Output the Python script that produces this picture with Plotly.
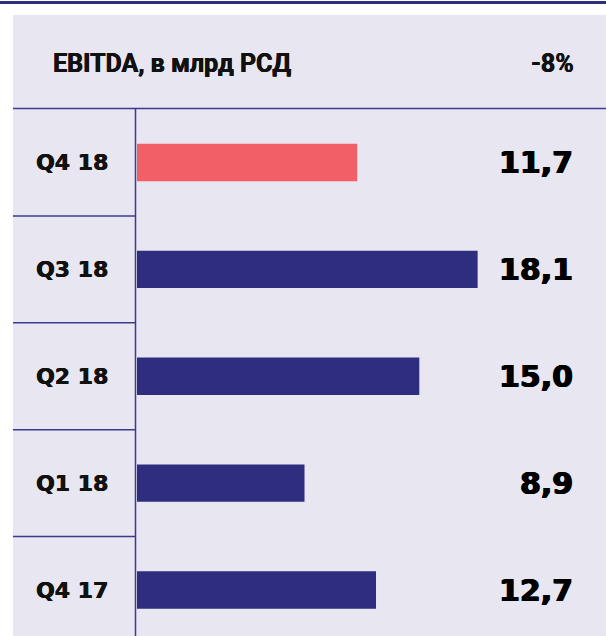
import plotly.graph_objects as go

categories = ["Q4 18", "Q3 18", "Q2 18", "Q1 18", "Q4 17"]
values = [11.7, 18.1, 15.0, 8.9, 12.7]
value_labels = ["11,7", "18,1", "15,0", "8,9", "12,7"]
bar_colors = ["#f25f67", "#2e2d7e", "#2e2d7e", "#2e2d7e", "#2e2d7e"]
title_text = "EBITDA, в млрд РСД"
change_text = "-8%"

W, H = 606, 636
ML, MT = 137, 109
PW, PH = W - ML, H - MT
NAVY = "#2e2d7e"
LINE = "#3b3a8f"
BG = "#e8e6f0"


def px(x):
    return (x - ML) / PW


def py(y):
    return 1 - (y - MT) / PH


fig = go.Figure()
fig.add_trace(go.Bar(
    x=values, y=categories, orientation="h",
    marker=dict(color=bar_colors, line=dict(width=0)),
    width=0.35, hoverinfo="skip",
))

shapes = [
    dict(type="rect", xref="paper", yref="paper", x0=px(13), x1=1, y0=0, y1=py(15),
         fillcolor=BG, line=dict(width=0), layer="below"),
    dict(type="line", xref="paper", yref="paper", x0=px(0), x1=1, y0=py(2.5), y1=py(2.5),
         line=dict(color=NAVY, width=3)),
    dict(type="line", xref="paper", yref="paper", x0=px(13), x1=1, y0=py(108.5), y1=py(108.5),
         line=dict(color=LINE, width=1.5)),
    dict(type="line", xref="paper", yref="paper", x0=px(135.5), x1=px(135.5), y0=0, y1=py(108.5),
         line=dict(color=LINE, width=1.5)),
]
for i in range(len(categories) - 1):
    shapes.append(dict(type="line", xref="paper", yref="y", x0=px(13), x1=px(135.5),
                       y0=i + 0.5, y1=i + 0.5, line=dict(color=LINE, width=1.5)))

heavy = "0.7px 0 0 #000, -0.7px 0 0 #000, 0 0.4px 0 #000"
mid = "0.4px 0 0 #111, -0.3px 0 0 #111"
annotations = [
    dict(text=title_text, xref="paper", yref="paper", x=px(51), y=py(63.5),
         xanchor="left", yanchor="middle", showarrow=False,
         font=dict(family="Roboto", size=25, color="#111111", weight="bold", shadow=mid)),
    dict(text=change_text, xref="paper", yref="paper", x=px(576), y=py(63.5),
         xanchor="right", yanchor="middle", showarrow=False,
         font=dict(family="Roboto", size=25, color="#111111", weight="bold", shadow=mid)),
]
for cat, lab in zip(categories, value_labels):
    annotations.append(dict(text=lab, xref="paper", yref="y", x=px(575), y=cat,
                            xanchor="right", yanchor="middle", showarrow=False,
                            font=dict(family="DejaVu Sans", size=30, color="#000000", weight="bold",
                                      shadow=heavy)))
    annotations.append(dict(text=cat, xref="paper", yref="y", x=px(72), y=cat,
                            xanchor="center", yanchor="middle", showarrow=False,
                            font=dict(family="DejaVu Sans", size=22, color="#111111", weight="bold",
                                      shadow=mid)))

ncat_visible = PH / 106.9
fig.update_layout(
    width=W, height=H,
    margin=dict(l=ML, r=0, t=MT, b=0, pad=0),
    paper_bgcolor="white", plot_bgcolor=BG,
    showlegend=False,
    xaxis=dict(range=[0, PW / 18.82], visible=False, fixedrange=True),
    yaxis=dict(type="category", categoryorder="array", categoryarray=categories,
               range=[-0.5 + ncat_visible, -0.5], visible=False, fixedrange=True),
    shapes=shapes, annotations=annotations,
)
fig.write_html("out.html", config=dict(displayModeBar=False),
               post_script="document.body.style.margin='0';document.body.style.overflow='hidden';")
